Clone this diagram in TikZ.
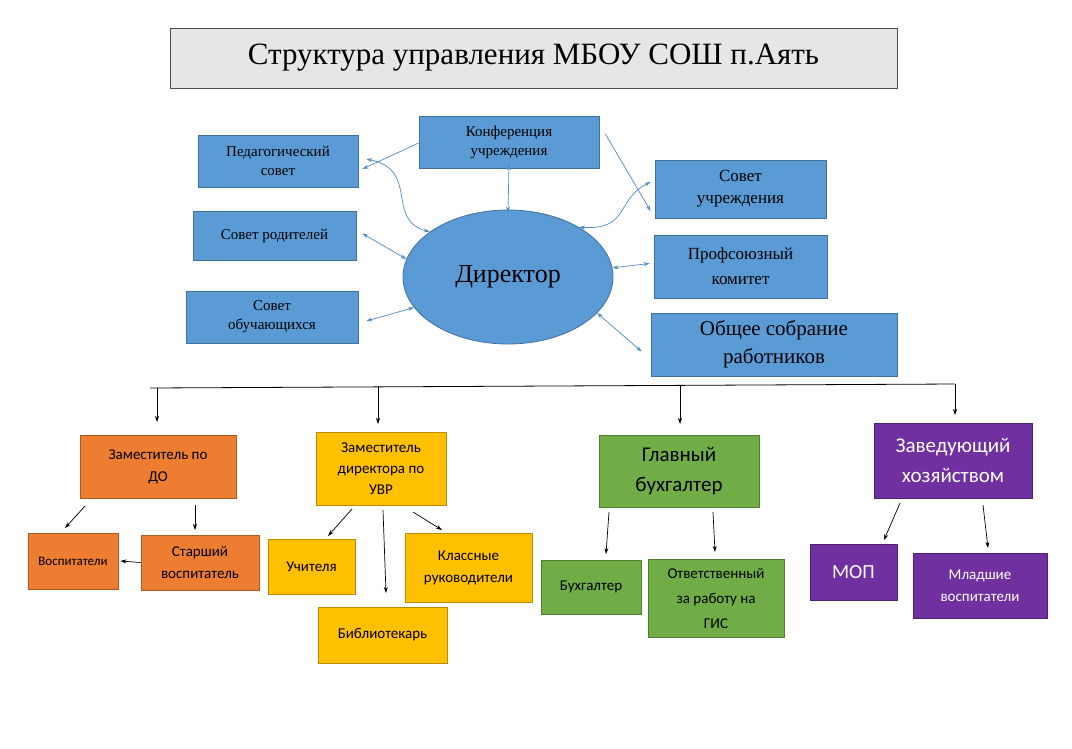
\documentclass[tikz,border=0pt]{standalone}
\usepackage{fontspec}
\setmainfont{Liberation Serif}
\newfontfamily\calfont{Carlito}
\usetikzlibrary{arrows.meta,shapes.geometric}
\definecolor{bl}{HTML}{5B9BD5}\definecolor{bld}{HTML}{41719C}
\definecolor{og}{HTML}{ED7D31}\definecolor{ogd}{HTML}{AE5A21}
\definecolor{yl}{HTML}{FFC000}\definecolor{yld}{HTML}{BC8C00}
\definecolor{gr}{HTML}{70AD47}\definecolor{grd}{HTML}{507E32}
\definecolor{pu}{HTML}{7030A0}\definecolor{pud}{HTML}{4F2270}
\definecolor{ttl}{HTML}{E7E6E6}
\tikzset{
 bbox/.style={fill=bl,draw=bld,line width=0.8pt,align=center,inner sep=2pt,font=\fontsize{15}{19}\selectfont},
 lbox/.style={draw,line width=0.8pt,align=center,inner sep=2pt,font=\calfont\fontsize{15}{22}\selectfont},
 ob/.style={lbox,fill=og,draw=ogd}, yb/.style={lbox,fill=yl,draw=yld},
 gb/.style={lbox,fill=gr,draw=grd}, pb/.style={lbox,fill=pu,draw=pud},
 da/.style={-{Stealth[length=6pt,width=4pt]},black,line width=0.7pt},
 ua/.style={{Stealth[length=6pt,width=4pt]}-{Stealth[length=6pt,width=4pt]},bl!90!black,line width=0.7pt},
 sa/.style={-{Stealth[length=6pt,width=4pt]},bl!90!black,line width=0.7pt}
}
\begin{document}
\begin{tikzpicture}[x=1pt,y=-1pt]
\useasboundingbox[fill=white] (0,0) rectangle (1072,748);
\node[fill=ttl,draw=black!70,line width=0.8pt,minimum width=727pt,minimum height=60pt,font=\fontsize{31}{36}\selectfont] (title) at (533.5,58) {Структура управления МБОУ СОШ п.Аять};
\node[bbox,minimum width=180pt,minimum height=52pt] (konf) at (509,142) {Конференция\\учреждения};
\node[bbox,minimum width=160pt,minimum height=52pt] (ped) at (278,161) {Педагогический\\совет};
\node[bbox,minimum width=171pt,minimum height=58pt,font=\fontsize{17}{22}\selectfont] (su) at (740.5,189) {Совет\\учреждения};
\node[bbox,minimum width=163pt,minimum height=49pt] (rod) at (274.5,235.5) {Совет родителей};
\node[bbox,minimum width=173pt,minimum height=63pt,font=\fontsize{17}{25}\selectfont] (prof) at (740.5,266.5) {Профсоюзный\\комитет};
\node[bbox,minimum width=172pt,minimum height=52pt] (obu) at (272,317) {Совет\\обучающихся};
\node[bbox,minimum width=246pt,minimum height=63pt,font=\fontsize{21}{28}\selectfont] (obs) at (774,344.5) {Общее собрание\\работников};
\node[ellipse,fill=bl,draw=bld,line width=0.8pt,minimum width=210pt,minimum height=134pt,font=\fontsize{26}{30}\selectfont] (dir) at (508,277) {Директор};
% upper connectors
\draw[sa] ([yshift=-1pt]konf.west) -- ([xshift=4pt,yshift=-8pt]ped.east);
\draw[sa] ([xshift=6pt,yshift=8pt]konf.east) -- ([xshift=-4pt,yshift=-22pt]su.west);
\draw[ua] ([yshift=4pt]konf.south) -- ([yshift=-3pt]dir.north);
\draw[ua] ([xshift=8pt,yshift=2pt]ped.east) .. controls (420,170) and (385,220) .. (dir.150);
\draw[ua] ([xshift=-4pt,yshift=7pt]su.west) .. controls (615,200) and (630,230) .. (dir.35);
\draw[ua] ([xshift=6pt,yshift=2pt]rod.east) -- (dir.170);
\draw[ua] ([xshift=-4pt,yshift=3pt]prof.west) -- (dir.5);
\draw[ua] ([xshift=8pt,yshift=-4pt]obu.east) -- (dir.198);
\draw[ua] ([xshift=-9pt,yshift=-7pt]obs.west) -- (dir.-22);
% bar
\coordinate (bl) at (150,388); \coordinate (br) at (955,384);
\draw[line width=0.8pt] (bl) -- (br);
\node[ob,minimum width=156pt,minimum height=63pt] (zdo) at (158,466.5) {Заместитель по\\ДО};
\node[yb,minimum width=130pt,minimum height=73pt,font=\calfont\fontsize{15}{21}\selectfont] (zuvr) at (381,468.5) {Заместитель\\директора по\\УВР};
\node[gb,minimum width=160pt,minimum height=72pt,font=\calfont\fontsize{21}{30}\selectfont] (gb) at (679,471) {Главный\\бухгалтер};
\node[pb,minimum width=158pt,minimum height=75pt,font=\calfont\fontsize{21}{30}\selectfont,text=white] (zh) at (953,460.5) {Заведующий\\хозяйством};
\draw[da] (157,388) -- (157,422);
\draw[da] (378,387) -- (378,424);
\draw[da] (680,385) -- (680,424);
\draw[da] (955,384) -- (955,415);
\node[ob,minimum width=90pt,minimum height=56pt,font=\calfont\fontsize{13}{16}\selectfont] (vos) at (73,561) {Воспитатели};
\node[ob,minimum width=118pt,minimum height=55pt] (svos) at (200,562.5) {Старший\\воспитатель};
\node[yb,minimum width=87pt,minimum height=55pt] (uch) at (311.5,566.5) {Учителя};
\node[yb,minimum width=127pt,minimum height=69pt] (klr) at (468.5,567.5) {Классные\\руководители};
\node[yb,minimum width=129pt,minimum height=56pt] (bib) at (382.5,635) {Библиотекарь};
\node[gb,minimum width=100pt,minimum height=54pt] (bux) at (591,587) {Бухгалтер};
\node[gb,minimum width=136pt,minimum height=78pt,font=\calfont\fontsize{15}{25}\selectfont] (gis) at (716,598) {Ответственный\\за работу на\\ГИС};
\node[pb,minimum width=87pt,minimum height=56pt,font=\calfont\fontsize{20}{24}\selectfont,text=white] (mop) at (853.5,572) {МОП};
\node[pb,minimum width=134pt,minimum height=65pt,text=white] (mv) at (980,585.5) {Младшие\\воспитатели};
\draw[da] (85,506) -- (65,528);
\draw[da] (195,505) -- (195,530);
\draw[da] (svos.west) -- ([xshift=2pt]vos.east);
\draw[da] (352,509) -- (328,536);
\draw[da] (383,510) -- (386,593);
\draw[da] (413,512) -- (442,530);
\draw[da] (609,512) -- (606,554);
\draw[da] (713,512) -- (715,552);
\draw[da] (900,503) -- (884,540);
\draw[da] (983,505) -- (988,548);
\end{tikzpicture}
\end{document}
